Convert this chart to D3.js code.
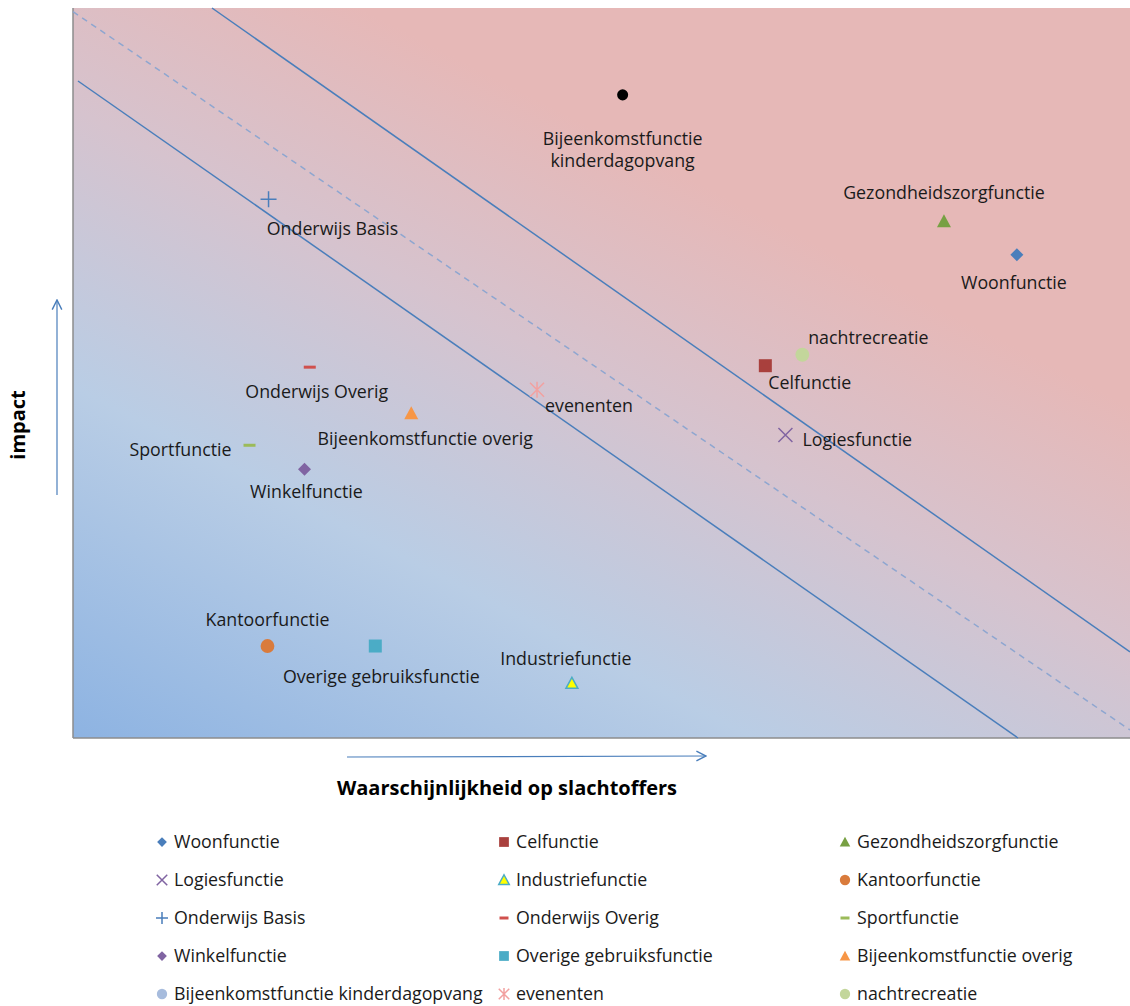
<!DOCTYPE html>
<html>
<head>
<meta charset="utf-8">
<script src="https://cdn.jsdelivr.net/npm/d3@7"></script>
<style>
  body { margin: 0; background: #fff; }
  svg { font-family: "Open Sans", Lato, sans-serif; }
  .lbl { font-size: 17.8px; fill: #1a1a1a; }
  .leg { font-size: 17.8px; fill: #1a1a1a; }
  .title { font-size: 20px; font-weight: bold; fill: #000; }
</style>
</head>
<body>
<svg width="1130" height="1006"></svg>
<script>
// series (risk categories)
var names = ["Woonfunctie", "Celfunctie", "Gezondheidszorgfunctie", "Logiesfunctie",
  "Industriefunctie", "Kantoorfunctie", "Onderwijs Basis", "Onderwijs Overig",
  "Sportfunctie", "Winkelfunctie", "Overige gebruiksfunctie", "Bijeenkomstfunctie overig",
  "Bijeenkomstfunctie kinderdagopvang", "evenenten", "nachtrecreatie"];
// waarschijnlijkheid (x) and impact (y), 0-100
var xVals = [89.3, 65.5, 82.4, 67.4, 47.2, 18.4, 18.5, 22.4, 16.7, 21.9, 28.6, 32.0, 52.0, 43.9, 69.0];
var yVals = [66.2, 51.0, 70.8, 41.5, 7.5, 12.6, 73.8, 50.8, 40.1, 36.8, 12.6, 44.5, 88.1, 47.7, 52.5];

// reference lines: [x1, y1, x2, y2]
var upperLine = [13.15, 100, 100, 11.8];
var lowerLine = [0.47, 90, 89.4, 0];
var midLine = [0, 99.5, 100, 1.1];

var shapes = ["diamond", "square", "triangle", "x", "triangle", "circle", "plus", "dash",
  "dash", "diamond", "square", "triangle", "circle", "star", "circle"];
var colors = ["#4A7EBB", "#A9403D", "#77A043", "#8064A2", "#FFFF00", "#D97B3C", "#4A7EBB", "#D0504D",
  "#9BBB59", "#8064A2", "#4BACC6", "#F79646", "#000000", "#F2A1A0", "#C3D69B"];
var legendColors = colors.slice();
legendColors[12] = "#A7BCDD";

// label placement relative to marker: dx, dy, anchor
var labelPos = [
  [-3, 28, "middle"], [3, 17, "start"], [0, -28, "middle"], [17, 5, "start"],
  [-6, -24, "middle"], [0, -26, "middle"], [64, 30, "middle"], [7, 25, "middle"],
  [-18, 4, "end"], [2, 22, "middle"], [6, 31, "middle"], [14, 26, "middle"],
  [0, 44, "middle"], [8, 16, "start"], [66, -17, "middle"]
];

var svg = d3.select("svg");
var plot = {left: 73, top: 8, right: 1130, bottom: 738};

var x = d3.scaleLinear().domain([0, 100]).range([plot.left, plot.right]);
var y = d3.scaleLinear().domain([0, 100]).range([plot.bottom, plot.top]);

var defs = svg.append("defs");
var grad = defs.append("linearGradient")
  .attr("id", "bg")
  .attr("gradientUnits", "userSpaceOnUse")
  .attr("x1", plot.left).attr("y1", plot.bottom)
  .attr("x2", 450).attr("y2", plot.top);
grad.append("stop").attr("offset", "0").attr("stop-color", "#8DB3E2");
grad.append("stop").attr("offset", "0.38").attr("stop-color", "#B9CDE5");
grad.append("stop").attr("offset", "0.68").attr("stop-color", "#D6C3CE");
grad.append("stop").attr("offset", "0.95").attr("stop-color", "#E6B8B7");

var marker = defs.append("marker")
  .attr("id", "arrow")
  .attr("viewBox", "0 0 10 10")
  .attr("refX", 9).attr("refY", 5)
  .attr("markerWidth", 12).attr("markerHeight", 12)
  .attr("markerUnits", "userSpaceOnUse")
  .attr("orient", "auto");
marker.append("path").attr("d", "M1,1 L9,5 L1,9").attr("fill", "none")
  .attr("stroke", "#4A7EBB").attr("stroke-width", 1.2);

svg.append("rect")
  .attr("x", plot.left).attr("y", plot.top)
  .attr("width", plot.right - plot.left).attr("height", plot.bottom - plot.top)
  .attr("fill", "url(#bg)");

// axes (plain lines, no ticks)
svg.append("line").attr("x1", plot.left).attr("y1", plot.top).attr("x2", plot.left).attr("y2", plot.bottom)
  .attr("stroke", "#8c8c8c").attr("stroke-width", 1.5);
svg.append("line").attr("x1", plot.left).attr("y1", plot.bottom).attr("x2", plot.right).attr("y2", plot.bottom)
  .attr("stroke", "#8c8c8c").attr("stroke-width", 1.5);

function drawLine(l, dash) {
  svg.append("line")
    .attr("x1", x(l[0])).attr("y1", y(l[1]))
    .attr("x2", x(l[2])).attr("y2", y(l[3]))
    .attr("stroke", dash ? "#8EA6D0" : "#4A7EBB")
    .attr("stroke-width", 1.5)
    .attr("stroke-dasharray", dash ? "6,5" : null);
}
drawLine(upperLine, false);
drawLine(lowerLine, false);
drawLine(midLine, true);

function symbolPath(shape) {
  if (shape == "diamond") return "M0,-6.5 L6.5,0 L0,6.5 L-6.5,0 Z";
  if (shape == "square") return "M-6.5,-6.5 H6.5 V6.5 H-6.5 Z";
  if (shape == "triangle") return "M0,-7 L7,6 L-7,6 Z";
  if (shape == "circle") return d3.symbol(d3.symbolCircle, 150)();
  if (shape == "x") return "M-7,-7 L7,7 M7,-7 L-7,7";
  if (shape == "plus") return "M-8,0 H8 M0,-8 V8";
  if (shape == "dash") return "M-6,0 H6";
  if (shape == "star") return "M-7,-7 L7,7 M7,-7 L-7,7 M0,-8 V8";
  return "";
}

function drawSymbol(g, i, col, scale) {
  var s = shapes[i];
  var p = g.append("path").attr("d", symbolPath(s)).attr("transform", "scale(" + scale + ")");
  if (s == "x" || s == "plus" || s == "star") {
    p.attr("fill", "none").attr("stroke", col).attr("stroke-width", 1.5 / scale);
  } else if (s == "dash") {
    p.attr("fill", "none").attr("stroke", col).attr("stroke-width", 3 / scale);
  } else if (i == 4) {
    p.attr("fill", col).attr("stroke", "#4BACC6").attr("stroke-width", 1.5 / scale);
  } else {
    p.attr("fill", col);
  }
}

var pts = svg.selectAll("g.pt")
  .data(names)
  .enter()
  .append("g")
  .attr("class", "pt")
  .attr("transform", function(d, i) { return "translate(" + x(xVals[i]) + "," + y(yVals[i]) + ")"; });

pts.each(function(d, i) {
  var scale = (shapes[i] == "circle" && i == 12) ? 0.8 : 1;
  if (shapes[i] == "triangle" && i == 4) scale = 0.85;
  drawSymbol(d3.select(this), i, colors[i], scale);
});

// data labels
names.forEach(function(n, i) {
  var p = labelPos[i];
  var lines = (i == 12) ? ["Bijeenkomstfunctie", "kinderdagopvang"] : [n];
  lines.forEach(function(t, k) {
    svg.append("text")
      .attr("class", "lbl")
      .attr("x", x(xVals[i]) + p[0])
      .attr("y", y(yVals[i]) + p[1] + k * 22)
      .attr("dy", "0.35em")
      .attr("text-anchor", p[2])
      .text(t);
  });
});

// axis arrows and titles
svg.append("line").attr("x1", 57).attr("y1", 495).attr("x2", 57).attr("y2", 300)
  .attr("stroke", "#4A7EBB").attr("stroke-width", 1.2).attr("marker-end", "url(#arrow)");
svg.append("line").attr("x1", 347).attr("y1", 757).attr("x2", 706).attr("y2", 756)
  .attr("stroke", "#4A7EBB").attr("stroke-width", 1.2).attr("marker-end", "url(#arrow)");

svg.append("text").attr("class", "title")
  .attr("transform", "translate(25,425) rotate(-90)")
  .attr("text-anchor", "middle")
  .text("impact");
svg.append("text").attr("class", "title")
  .attr("x", 507).attr("y", 795)
  .attr("text-anchor", "middle")
  .text("Waarschijnlijkheid op slachtoffers");

// legend, 3 columns
var legX = [162, 504, 845];
var leg = svg.selectAll("g.leg")
  .data(names)
  .enter()
  .append("g")
  .attr("class", "leg")
  .attr("transform", function(d, i) {
    return "translate(" + legX[i % 3] + "," + (842 + 38 * Math.floor(i / 3)) + ")";
  });
leg.each(function(d, i) {
  drawSymbol(d3.select(this), i, legendColors[i], 0.75);
});
leg.append("text")
  .attr("class", "leg")
  .attr("x", 12)
  .attr("dy", "0.35em")
  .text(function(d) { return d; });
</script>
</body>
</html>
